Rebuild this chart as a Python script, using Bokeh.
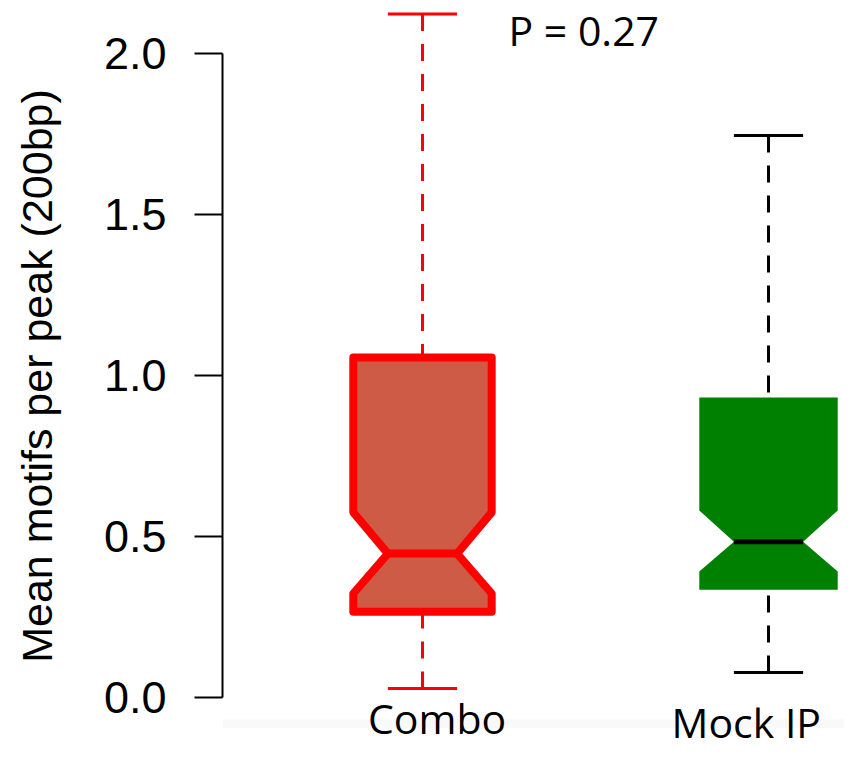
from bokeh.plotting import figure
from bokeh.models import Range1d, FixedTicker, BoxAnnotation, Label
from bokeh.embed import file_html
from bokeh.resources import INLINE

# ---- data ----
groups = ["Combo", "Mock IP"]
positions = [1, 2]
whisker_low = [0.028, 0.078]
q1 = [0.266, 0.335]
notch_low = [0.323, 0.391]
median = [0.447, 0.484]
notch_high = [0.575, 0.581]
q3 = [1.056, 0.932]
whisker_high = [2.123, 1.745]

fill_colors = ["#CD5B45", "#008000"]
outline_colors = ["#FF0000", None]
median_colors = ["#FF0000", "#000000"]
median_widths = [8, 5]
whisker_colors = ["#FF0000", "#000000"]

y_ticks = [0.0, 0.5, 1.0, 1.5, 2.0]
y_tick_labels = ["0.0", "0.5", "1.0", "1.5", "2.0"]
y_label = "Mean motifs per peak (200bp)"
p_value_text = "P = 0.27"

BOX_HALF = 0.2
NOTCH_HALF = 0.1
CAP_HALF = 0.1

p = figure(width=844, height=751,
           x_range=Range1d(0.42197, 2.21965),
           y_range=Range1d(-0.16770, 2.16460),
           output_backend="svg", toolbar_location=None,
           x_axis_location=None,
           min_border_left=222, min_border_right=0,
           min_border_top=0, min_border_bottom=0)
p.outline_line_color = None
p.grid.visible = False
p.background_fill_color = "white"
p.border_fill_color = "white"

# faint band near the bottom
p.add_layout(BoxAnnotation(top=-0.0674, bottom=-0.0954,
                           fill_color="#f9f9f9", fill_alpha=1.0, line_color=None,
                           level="underlay"))

# y axis
ax = p.yaxis[0]
ax.ticker = FixedTicker(ticks=y_ticks)
ax.major_label_overrides = {t: l for t, l in zip(y_ticks, y_tick_labels)}
ax.bounds = (y_ticks[0], y_ticks[-1])
ax.axis_line_width = 2
ax.axis_line_color = "black"
ax.major_tick_line_width = 2
ax.major_tick_line_color = "black"
ax.major_tick_out = 28
ax.major_tick_in = 0
ax.minor_tick_line_color = None
ax.major_label_standoff = 28
ax.major_label_text_font = "Liberation Sans"
ax.major_label_text_font_size = "45px"
ax.major_label_text_color = "black"
ax.axis_label = y_label
ax.axis_label_text_font = "Liberation Sans"
ax.axis_label_text_font_size = "43px"
ax.axis_label_text_font_style = "normal"
ax.axis_label_text_color = "black"
ax.axis_label_standoff = 40

for i, x in enumerate(positions):
    wc = whisker_colors[i]
    # whiskers (dashed, from whisker end toward the box)
    p.segment(x0=[x, x], y0=[whisker_high[i], whisker_low[i]],
              x1=[x, x], y1=[q3[i], q1[i]],
              line_color=wc, line_width=3, line_dash="17 13")
    # caps
    p.segment(x0=[x - CAP_HALF, x - CAP_HALF], y0=[whisker_high[i], whisker_low[i]],
              x1=[x + CAP_HALF, x + CAP_HALF], y1=[whisker_high[i], whisker_low[i]],
              line_color=wc, line_width=3)
    # notched box
    xs = [x - BOX_HALF, x - BOX_HALF, x - NOTCH_HALF, x - BOX_HALF, x - BOX_HALF,
          x + BOX_HALF, x + BOX_HALF, x + NOTCH_HALF, x + BOX_HALF, x + BOX_HALF]
    ys = [q1[i], notch_low[i], median[i], notch_high[i], q3[i],
          q3[i], notch_high[i], median[i], notch_low[i], q1[i]]
    if outline_colors[i] is None:
        p.patch(xs, ys, fill_color=fill_colors[i], line_color=None)
    else:
        p.patch(xs, ys, fill_color=fill_colors[i], line_color=outline_colors[i],
                line_width=8, line_join="round")
    # median
    p.segment(x0=[x - NOTCH_HALF], y0=[median[i]], x1=[x + NOTCH_HALF], y1=[median[i]],
              line_color=median_colors[i], line_width=median_widths[i],
              line_cap="round" if outline_colors[i] else "butt")

# texts added on top (like the reference's annotations)
text_style = dict(text_font="Open Sans", text_font_size="41px",
                  text_baseline="alphabetic", text_align="left", text_color="black")
p.add_layout(Label(x=1.2486, y=2.0745, text=p_value_text, **text_style))
p.add_layout(Label(x=0.8425, y=-0.0652, text=groups[0], **text_style))
p.add_layout(Label(x=1.7197, y=-0.0776, text=groups[1], **text_style))

open("out.html", "w").write(file_html(p, INLINE))
